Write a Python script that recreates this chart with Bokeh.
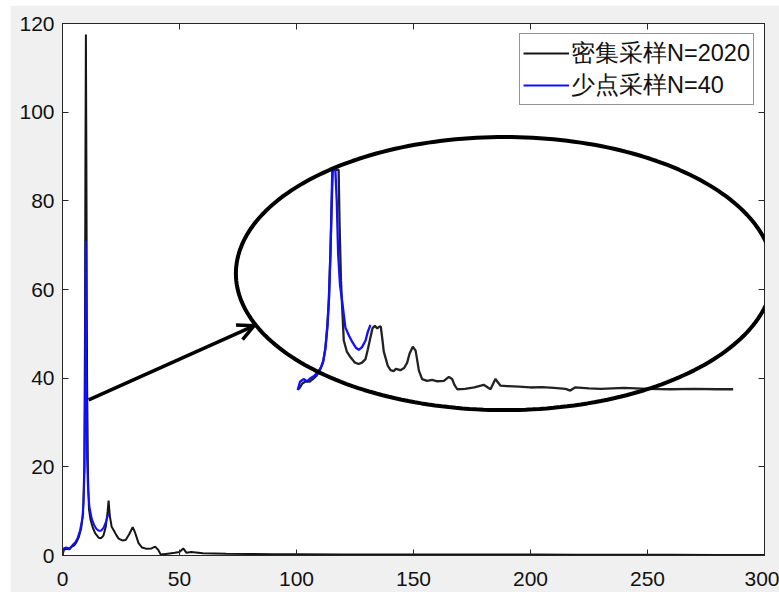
import numpy as np
from bokeh.plotting import figure
from bokeh.models import (Range1d, LinearAxis, FixedTicker, Legend, LegendItem,
                          Arrow, OpenHead, PolyAnnotation)
from bokeh.embed import file_html
from bokeh.resources import INLINE

# ---------------- data ----------------
dense_x = [0, 0.5, 1.5, 3, 4, 5, 6, 7, 8, 8.8, 9.3, 9.6, 9.8, 10.0, 10.2, 10.5, 10.9, 11.3,
           12, 13, 14, 15.5, 16.5, 17.5, 18.5, 19.3, 19.7, 20.2, 21, 22, 23, 24, 25.5, 27,
           28.5, 30, 31, 32.5, 34, 36, 38, 39.6, 41, 42, 45, 48, 50, 51.6, 53, 55, 60, 70,
           80, 90, 100, 120, 140, 160, 180, 200, 220, 240, 260, 280, 300]
dense_y = [0, 1.2, 1.5, 1.4, 2.0, 2.3, 3.0, 4.2, 6.2, 9.5, 20, 50, 90, 117.5, 90, 40, 18, 10.5,
           8, 6.2, 5, 4, 3.9, 4.5, 6.5, 10, 12.4, 9, 6.5, 5.6, 4.6, 3.8, 3.4, 3.5,
           4.8, 6.4, 5.2, 2.8, 1.8, 1.5, 1.6, 2.0, 1.2, 0.2, 0.4, 0.6, 0.8, 1.6, 0.6, 0.8, 0.5, 0.4,
           0.35, 0.3, 0.3, 0.25, 0.25, 0.2, 0.2, 0.2, 0.15, 0.15, 0.15, 0.1, 0.1]

sparse_x = [0, 0.5, 1.5, 3, 4.2, 5.5, 6.5, 7.5, 8.5, 9.0, 9.4, 9.7, 9.9, 10.1, 10.5, 10.9,
            11.5, 12.5, 13.5, 14.5, 15.5, 16.5, 17.5, 18.5, 19.2, 19.7]
sparse_y = [0, 1.6, 1.8, 1.6, 2.3, 3.0, 4.0, 5.7, 8.5, 12, 19, 40, 71, 45, 22, 15,
            11, 8.3, 6.9, 6.0, 5.6, 5.6, 6.2, 7.5, 8.7, 9.5]

# zoomed copy drawn inside the ellipse (in the main chart's coordinates)
inset_dense_x = [101, 102.5, 104, 105.5, 107, 108.5, 110, 111.3, 112.3, 113.2, 113.9, 114.6,
                 115.2, 115.5, 118.0, 118.4, 119, 119.7, 120.2, 121.5, 123.1, 125, 126.6, 128,
                 129.5, 130.5, 131.6, 132.5, 133.5, 134.5, 135.3, 136, 136.6, 137.3, 138, 139,
                 140.2, 141.5, 142.5, 144.4, 146, 147.3, 148.3, 149.7, 150.9, 151.6, 152.3,
                 153.7, 155.8, 158, 160.1, 163, 165.1, 166.5, 167.5, 168.7, 172, 176, 180,
                 182.9, 185, 187.2, 190, 195, 200, 205, 210, 215, 217, 219, 225, 230, 240,
                 250, 260, 270, 280, 286.6]
inset_dense_y = [37.5, 38.8, 39.3, 39.2, 39.8, 40.5, 41.8, 43.5, 46.5, 51.5, 58, 70,
                 82, 87, 87, 75, 62, 54, 48.5, 46, 44.7, 43.5, 43.2, 43.5,
                 44.3, 46.5, 49.2, 51.3, 51.8, 51.2, 51.6, 51.7, 49.2, 46, 44.7, 42.8,
                 41.8, 41.6, 42.1, 41.8, 42.3, 43.5, 45.5, 47.1, 46.2, 44, 41.7,
                 39.8, 39.4, 39.6, 39.3, 39.4, 40.3, 39.8, 38.5, 37.5, 37.6, 37.9, 38.5,
                 37.5, 39.8, 38.3, 38.2, 38.1, 37.9, 38.0, 37.8, 37.6, 37.2, 37.9, 37.7, 37.6, 37.8,
                 37.6, 37.5, 37.6, 37.5, 37.5]

inset_sparse_x = [100.5, 101.5, 103, 104.5, 106, 107.5, 109, 110.5, 111.5, 112.4, 113.2, 113.8,
                  114.5, 115.0, 115.3, 116.6, 117.2, 117.8, 118.6, 119.5, 120.9, 122.5, 124,
                  125.5, 126.6, 128, 129.5, 130.5, 131.6]
inset_sparse_y = [37.3, 39.2, 39.8, 39.3, 40.0, 40.5, 41.2, 42.5, 44, 47, 52, 57.5,
                  68, 80, 87, 87, 80, 68, 61, 57.4, 51.4, 49.5, 48,
                  46.8, 46.4, 47, 48.5, 50.5, 52]

x_ticks = [0, 50, 100, 150, 200, 250, 300]
y_ticks = [0, 20, 40, 60, 80, 100, 120]
legend_labels = ["密集采样N=2020", "少点采样N=40"]

# ellipse annotation (center, full width, full height) and arrow, in data units
ell_cx, ell_cy, ell_w, ell_h = 188.9, 63.6, 229.6, 61.6
arrow_start = (11.2, 35.1)
arrow_end = (81.8, 51.8)

# ---------------- figure ----------------
AX = "#262626"
FONT = "Liberation Sans"

p = figure(width=769, height=587, output_backend="svg", toolbar_location=None,
           x_range=Range1d(0, 300), y_range=Range1d(0, 120),
           min_border_left=52, min_border_right=15, min_border_top=18, min_border_bottom=37)
p.margin = (5, 0, 0, 10)
p.border_fill_color = "#f0f0f0"
p.background_fill_color = "white"
p.outline_line_color = AX
p.outline_line_width = 1
p.grid.visible = False

for ax in (p.xaxis[0], p.yaxis[0]):
    ax.major_tick_in = 6
    ax.major_tick_out = 0
    ax.minor_tick_in = 0
    ax.minor_tick_out = 0
    ax.axis_line_color = AX
    ax.major_tick_line_color = AX
    ax.major_label_text_font = FONT
    ax.major_label_text_font_size = "21px"
    ax.major_label_text_color = "#111111"
p.xaxis[0].ticker = FixedTicker(ticks=x_ticks)
p.yaxis[0].ticker = FixedTicker(ticks=y_ticks)
p.xaxis[0].major_label_standoff = 16
p.yaxis[0].major_label_standoff = 8

# ticks on top and right (box on), without labels
top = LinearAxis(ticker=FixedTicker(ticks=x_ticks),
                 major_label_overrides={t: "" for t in x_ticks})
right = LinearAxis(ticker=FixedTicker(ticks=y_ticks),
                   major_label_overrides={t: "" for t in y_ticks})
for ax in (top, right):
    ax.major_tick_in = 6
    ax.major_tick_out = 0
    ax.minor_tick_in = 0
    ax.minor_tick_out = 0
    ax.axis_line_color = AX
    ax.major_tick_line_color = AX
    ax.major_label_text_font_size = "1px"
    ax.major_label_standoff = 0
p.add_layout(top, "above")
p.add_layout(right, "right")

LW = 2
BLACK = "#151515"
BLUE = "#1010ff"

r_dense = p.line(dense_x, dense_y, line_color=BLACK, line_width=LW)
r_sparse = p.line(sparse_x, sparse_y, line_color=BLUE, line_width=LW)
p.line(inset_dense_x, inset_dense_y, line_color="#222222", line_width=2.3)
p.line(inset_sparse_x, inset_sparse_y, line_color=BLUE, line_width=2.3)

# ellipse outline
t = np.linspace(0, 2 * np.pi, 241)
ex = ell_cx + ell_w / 2 * np.cos(t)
ey = ell_cy + ell_h / 2 * np.sin(t)
p.add_layout(PolyAnnotation(xs=list(ex), ys=list(ey), fill_alpha=0,
                            line_color="black", line_alpha=1, line_width=4))

p.add_layout(Arrow(end=OpenHead(size=16, line_width=3.5, line_color="black"),
                   x_start=arrow_start[0], y_start=arrow_start[1],
                   x_end=arrow_end[0], y_end=arrow_end[1],
                   line_width=3.5, line_color="black"))

legend = Legend(items=[LegendItem(label=legend_labels[0], renderers=[r_dense]),
                       LegendItem(label=legend_labels[1], renderers=[r_sparse])],
                location="top_right")
legend.margin = 10
legend.padding = 3
legend.spacing = 0
legend.label_height = 22
legend.glyph_height = 22
legend.glyph_width = 46
legend.label_standoff = 2
legend.label_text_font = FONT
legend.label_text_font_size = "23.5px"
legend.label_text_line_height = 0.95
legend.label_text_color = "#111111"
legend.border_line_color = AX
legend.border_line_width = 1
legend.background_fill_color = "white"
legend.background_fill_alpha = 1
p.add_layout(legend)

open("out.html", "w").write(file_html(p, INLINE))
